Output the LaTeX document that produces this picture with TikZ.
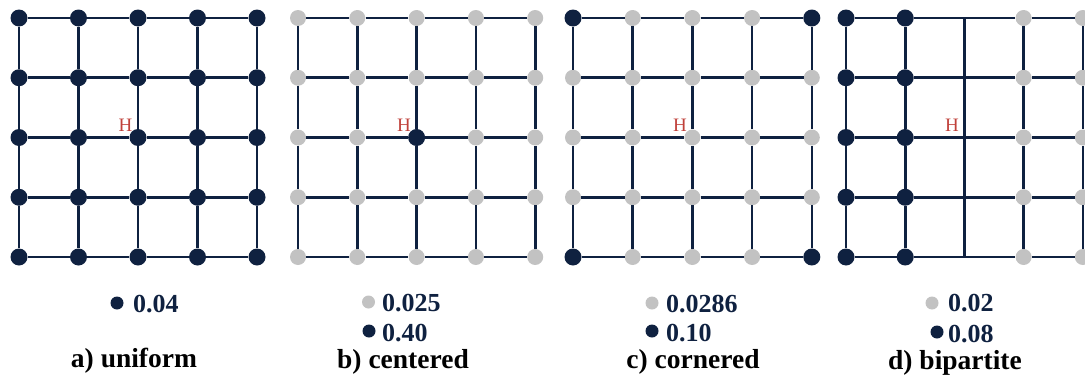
\documentclass[tikz,border=0pt]{standalone}
\usepackage{fontspec}
\setmainfont{Liberation Serif}
\definecolor{navy}{HTML}{0F2140}
\definecolor{lgray}{HTML}{C2C2C2}
\definecolor{hred}{HTML}{C0413B}
\begin{document}
\begin{tikzpicture}[x=1pt,y=-1pt,
 edge/.style={draw=navy,line width=2.6pt},
 dk/.style={circle,fill=navy,inner sep=0pt,minimum size=17pt},
 gr/.style={circle,fill=lgray,inner sep=0pt,minimum size=16pt},
 pt/.style={inner sep=0pt,minimum size=0pt,outer sep=0pt},
 hlab/.style={text=hred,inner sep=0pt,font=\fontsize{19}{19}\selectfont},
 num/.style={text=navy,anchor=base west,inner sep=0pt,font=\bfseries\fontsize{26}{26}\selectfont},
 capt/.style={text=black,anchor=base,inner sep=0pt,font=\bfseries\fontsize{27.5}{27.5}\selectfont},
 ldk/.style={circle,fill=navy,inner sep=0pt,minimum size=13pt},
 lgr/.style={circle,fill=lgray,inner sep=0pt,minimum size=13pt}]
\useasboundingbox (0,0) rectangle (1085,383);
\clip (0,0) rectangle (1085,383);
% panel a: uniform
\foreach \i in {0,...,4}{\foreach \j in {0,...,4}{
  \node[dk] (a-\i-\j) at (19+59.5*\i,18+59.75*\j) {};
}}
% panel b: centered
\foreach \i in {0,...,4}{\foreach \j in {0,...,4}{
  \pgfmathtruncatemacro\ctr{(\i==2)&&(\j==2)}
  \ifnum\ctr=1 \def\sty{dk}\else\def\sty{gr}\fi
  \node[\sty] (b-\i-\j) at (298+59.3*\i,18+59.75*\j) {};
}}
% panel c: cornered
\foreach \i in {0,...,4}{\foreach \j in {0,...,4}{
  \pgfmathtruncatemacro\crn{((\i==0)||(\i==4))&&((\j==0)||(\j==4))}
  \ifnum\crn=1 \def\sty{dk}\else\def\sty{gr}\fi
  \node[\sty] (c-\i-\j) at (573+59.7*\i,18+59.75*\j) {};
}}
% panel d: bipartite
\foreach \i in {0,...,4}{\foreach \j in {0,...,4}{
  \ifnum\i<2 \def\sty{dk}\else\ifnum\i=2 \def\sty{pt}\else\def\sty{gr}\fi\fi
  \node[\sty] (d-\i-\j) at (846+59.2*\i,18+59.75*\j) {};
}}
% edges
\foreach \p in {a,b,c,d}{\foreach \i in {0,...,3}{\foreach \j in {0,...,4}{
  \pgfmathtruncatemacro\k{\i+1}
  \draw[edge] (\p-\i-\j) -- (\p-\k-\j);
  \draw[edge] (\p-\j-\i) -- (\p-\j-\k);
}}}
% H labels
\foreach \p in {a,b,c,d}{
  \node[hlab] (h-\p) at ([shift={(-12.5,-12)}]\p-2-2) {H};
}
% legends
\node[ldk] (la1) at (117,303) {};
\node[num] (ta1) at (133,312) {0.04};
\node[capt] (ca) at (134,367) {a) uniform};

\node[lgr] (lb1) at (368.5,302) {};
\node[num] (tb1) at (382,311) {0.025};
\node[ldk] (lb2) at (369,331) {};
\node[num] (tb2) at (382,341) {0.40};
\node[capt] (cb) at (403,368) {b) centered};

\node[lgr] (lc1) at (652,303) {};
\node[num] (tc1) at (666,312) {0.0286};
\node[ldk] (lc2) at (652,331) {};
\node[num] (tc2) at (666,341) {0.10};
\node[capt] (cc) at (693,368) {c) cornered};

\node[lgr] (ld1) at (932,303) {};
\node[num] (td1) at (948,311) {0.02};
\node[ldk] (ld2) at (937,332) {};
\node[num] (td2) at (948,342) {0.08};
\node[capt] (cd) at (955,369) {d) bipartite};
\end{tikzpicture}
\end{document}
